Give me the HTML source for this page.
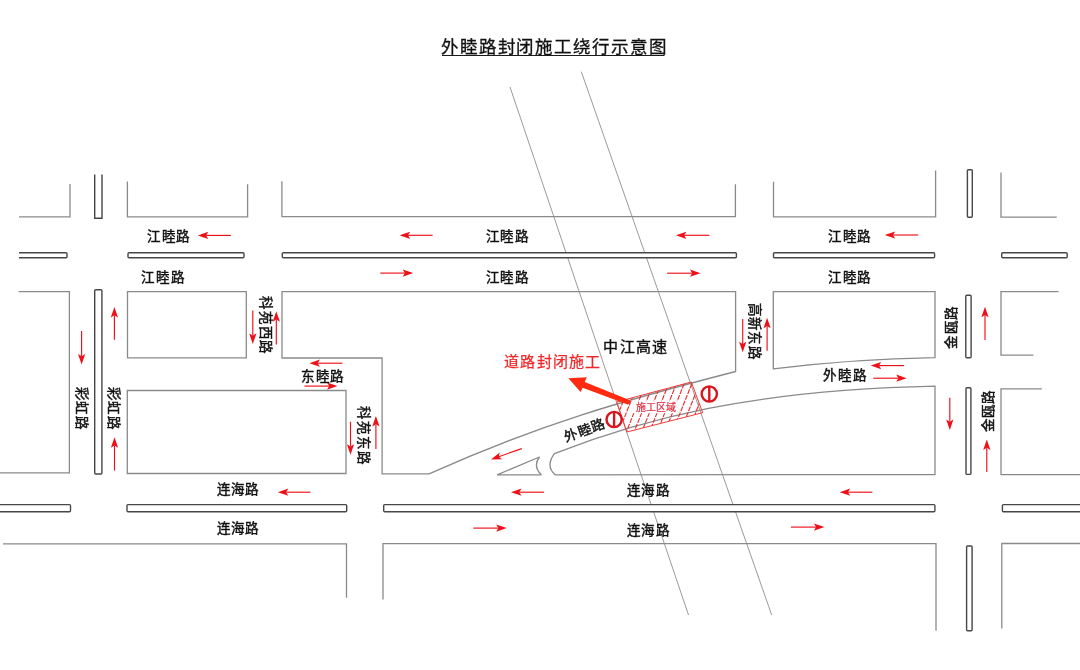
<!DOCTYPE html>
<html lang="zh-CN"><head><meta charset="utf-8"><title>外睦路封闭施工绕行示意图</title>
<style>html,body{margin:0;padding:0;background:#fff;}body{width:1080px;height:670px;overflow:hidden;}svg{display:block;font-family:"Liberation Serif",serif;will-change:transform;}</style>
</head><body>
<svg width="1080" height="670" viewBox="0 0 1080 670">
<rect width="1080" height="670" fill="#fff"/>
<line x1="510" y1="87" x2="688.5" y2="615" stroke="#959595" stroke-width="0.95"/>
<line x1="581.3" y1="71.7" x2="771.7" y2="615" stroke="#959595" stroke-width="0.95"/>
<path d="M19,216.8 L70,216.8 L70,184" fill="none" stroke="#8a8a8a" stroke-width="1.3"/>
<path d="M127.4,181.6 L127.4,216.9 L247.6,216.9 L247.6,184.3" fill="none" stroke="#8a8a8a" stroke-width="1.3"/>
<path d="M281.9,181.3 L281.9,216.6 L735.4,216.6 L735.4,184.2" fill="none" stroke="#8a8a8a" stroke-width="1.3"/>
<path d="M773.5,181.7 L773.5,216.8 L935.6,216.8 L935.6,170.4" fill="none" stroke="#8a8a8a" stroke-width="1.3"/>
<path d="M1001,172.5 L1001,217.1 L1056.8,217.1" fill="none" stroke="#8a8a8a" stroke-width="1.3"/>
<path d="M18.7,291.7 L69.4,291.7 L69.4,472.8 L0,472.8" fill="none" stroke="#8a8a8a" stroke-width="1.3"/>
<path d="M127.5,291.6 L246.3,291.6 L246.3,357.8 L127.5,357.8 Z" fill="none" stroke="#8a8a8a" stroke-width="1.3"/>
<path d="M282,291.6 L735.6,291.6 L735.6,371.5 C623.2,400.5 538.4,424.6 429.1,473.9 L382.1,473.9 L382.1,358 L282,358 Z" fill="none" stroke="#8a8a8a" stroke-width="1.3" stroke-miterlimit="2"/>
<path d="M127.3,390.5 L346,390.5 L346,473.5 L127.3,473.5 Z" fill="none" stroke="#8a8a8a" stroke-width="1.3"/>
<path d="M773.3,291.6 L935,291.6 L935,357.6 Q854,358.8 773.3,368.9 Z" fill="none" stroke="#8a8a8a" stroke-width="1.3" stroke-miterlimit="2"/>
<path d="M935,386.2 L935,474.6 L555.2,474.8 Q545.2,466 554.4,453.7 C642.1,419.2 750.5,390 935,386.2 Z" fill="none" stroke="#8a8a8a" stroke-width="1.3" stroke-miterlimit="2"/>
<path d="M497.1,474.8 L541.3,474.8 Q532.6,466 539.5,457 Z" fill="none" stroke="#8a8a8a" stroke-width="1.3" stroke-miterlimit="2"/>
<path d="M1058.5,291.6 L1001,291.6 L1001,355.2 L1033.5,355.2" fill="none" stroke="#8a8a8a" stroke-width="1.3"/>
<path d="M1041.8,388.8 L1001,388.8 L1001,474.6 L1080,474.6" fill="none" stroke="#8a8a8a" stroke-width="1.3"/>
<path d="M3,543.8 L346.5,543.8 L346.5,597.7" fill="none" stroke="#8a8a8a" stroke-width="1.3"/>
<path d="M383,599.5 L383,543.6 L936,543.6 L936,630.7" fill="none" stroke="#8a8a8a" stroke-width="1.3"/>
<path d="M1001.8,628.6 L1001.8,543.5 L1081,543.5" fill="none" stroke="#8a8a8a" stroke-width="1.3"/>
<path d="M19,252.8 L66,252.8 Q67,252.8 67,253.8 L67,256.7 Q67,257.7 66,257.7 L19,257.7" fill="none" stroke="#474747" stroke-width="1.4" stroke-miterlimit="2"/>
<rect x="128" y="252.8" width="116" height="4.899999999999977" rx="1" fill="#fff" stroke="#474747" stroke-width="1.4"/>
<rect x="282.3" y="252.8" width="454.09999999999997" height="4.899999999999977" rx="1" fill="#fff" stroke="#474747" stroke-width="1.4"/>
<rect x="773.5" y="252.8" width="161.10000000000002" height="4.899999999999977" rx="1" fill="#fff" stroke="#474747" stroke-width="1.4"/>
<rect x="1001.7" y="252.8" width="65.5" height="4.899999999999977" rx="1" fill="#fff" stroke="#474747" stroke-width="1.4"/>
<rect x="-5" y="504.6" width="75.5" height="7.199999999999989" rx="1" fill="#fff" stroke="#474747" stroke-width="1.4"/>
<rect x="127" y="504.6" width="219.7" height="7.199999999999989" rx="1" fill="#fff" stroke="#474747" stroke-width="1.4"/>
<rect x="383.7" y="504.6" width="551.2" height="7.199999999999989" rx="1" fill="#fff" stroke="#474747" stroke-width="1.4"/>
<rect x="1002.4" y="504.6" width="87.60000000000002" height="7.199999999999989" rx="1" fill="#fff" stroke="#474747" stroke-width="1.4"/>
<path d="M94.7,174.6 L94.7,218.3 L102,218.3 L102,174.6" fill="none" stroke="#474747" stroke-width="1.4" stroke-miterlimit="2"/>
<rect x="94.7" y="289.7" width="7.200000000000003" height="184.3" rx="1" fill="#fff" stroke="#474747" stroke-width="1.4"/>
<rect x="967.4" y="169.7" width="4.899999999999977" height="47.60000000000002" rx="1" fill="#fff" stroke="#474747" stroke-width="1.4"/>
<rect x="965.8" y="295.2" width="5.300000000000068" height="62.5" rx="1" fill="#fff" stroke="#474747" stroke-width="1.4"/>
<rect x="966" y="387.7" width="4.899999999999977" height="86.69999999999999" rx="1" fill="#fff" stroke="#474747" stroke-width="1.4"/>
<rect x="966.6" y="546" width="5.5" height="84.70000000000005" rx="1" fill="#fff" stroke="#474747" stroke-width="1.4"/>
<line x1="230.9" y1="235.4" x2="206.1" y2="235.4" stroke="#ee1018" stroke-width="1.15"/>
<path d="M197.8,235.4 L208.3,231.8 L206.1,235.4 L208.3,239.0 Z" fill="#ee1018"/>
<line x1="432.6" y1="235.3" x2="408.0" y2="235.3" stroke="#ee1018" stroke-width="1.15"/>
<path d="M399.7,235.3 L410.2,231.7 L408.0,235.3 L410.2,238.9 Z" fill="#ee1018"/>
<line x1="709.4" y1="235.3" x2="684.2" y2="235.3" stroke="#ee1018" stroke-width="1.15"/>
<path d="M675.9,235.3 L686.4,231.7 L684.2,235.3 L686.4,238.9 Z" fill="#ee1018"/>
<line x1="918.2" y1="235.0" x2="893.0" y2="235.0" stroke="#ee1018" stroke-width="1.15"/>
<path d="M884.7,235.0 L895.2,231.4 L893.0,235.0 L895.2,238.6 Z" fill="#ee1018"/>
<line x1="342.4" y1="363.2" x2="317.7" y2="363.2" stroke="#ee1018" stroke-width="1.15"/>
<path d="M309.4,363.2 L319.9,359.6 L317.7,363.2 L319.9,366.8 Z" fill="#ee1018"/>
<line x1="904.0" y1="365.6" x2="879.0" y2="365.6" stroke="#ee1018" stroke-width="1.15"/>
<path d="M870.7,365.6 L881.2,362.0 L879.0,365.6 L881.2,369.2 Z" fill="#ee1018"/>
<line x1="310.4" y1="492.2" x2="286.1" y2="492.2" stroke="#ee1018" stroke-width="1.15"/>
<path d="M277.8,492.2 L288.3,488.6 L286.1,492.2 L288.3,495.8 Z" fill="#ee1018"/>
<line x1="544.0" y1="492.2" x2="519.3" y2="492.2" stroke="#ee1018" stroke-width="1.15"/>
<path d="M511.0,492.2 L521.5,488.6 L519.3,492.2 L521.5,495.8 Z" fill="#ee1018"/>
<line x1="872.3" y1="492.2" x2="848.0" y2="492.2" stroke="#ee1018" stroke-width="1.15"/>
<path d="M839.7,492.2 L850.2,488.6 L848.0,492.2 L850.2,495.8 Z" fill="#ee1018"/>
<line x1="380.3" y1="273.1" x2="404.9" y2="273.1" stroke="#ee1018" stroke-width="1.15"/>
<path d="M413.2,273.1 L402.7,276.7 L404.9,273.1 L402.7,269.5 Z" fill="#ee1018"/>
<line x1="667.2" y1="273.2" x2="692.2" y2="273.2" stroke="#ee1018" stroke-width="1.15"/>
<path d="M700.5,273.2 L690.0,276.8 L692.2,273.2 L690.0,269.6 Z" fill="#ee1018"/>
<line x1="304.5" y1="386.1" x2="329.2" y2="386.1" stroke="#ee1018" stroke-width="1.15"/>
<path d="M337.5,386.1 L327.0,389.7 L329.2,386.1 L327.0,382.5 Z" fill="#ee1018"/>
<line x1="873.3" y1="378.2" x2="898.4" y2="378.2" stroke="#ee1018" stroke-width="1.15"/>
<path d="M906.7,378.2 L896.2,381.8 L898.4,378.2 L896.2,374.6 Z" fill="#ee1018"/>
<line x1="473.3" y1="528.1" x2="498.4" y2="528.1" stroke="#ee1018" stroke-width="1.15"/>
<path d="M506.7,528.1 L496.2,531.7 L498.4,528.1 L496.2,524.5 Z" fill="#ee1018"/>
<line x1="790.9" y1="527.1" x2="816.1" y2="527.1" stroke="#ee1018" stroke-width="1.15"/>
<path d="M824.4,527.1 L813.9,530.7 L816.1,527.1 L813.9,523.5 Z" fill="#ee1018"/>
<line x1="81.6" y1="331.0" x2="81.6" y2="356.3" stroke="#ee1018" stroke-width="1.15"/>
<path d="M81.6,364.6 L78.0,354.1 L81.6,356.3 L85.2,354.1 Z" fill="#ee1018"/>
<line x1="252.8" y1="310.6" x2="252.8" y2="335.6" stroke="#ee1018" stroke-width="1.15"/>
<path d="M252.8,343.9 L249.2,333.4 L252.8,335.6 L256.4,333.4 Z" fill="#ee1018"/>
<line x1="350.5" y1="421.8" x2="350.5" y2="446.5" stroke="#ee1018" stroke-width="1.15"/>
<path d="M350.5,454.8 L346.9,444.3 L350.5,446.5 L354.1,444.3 Z" fill="#ee1018"/>
<line x1="742.7" y1="318.9" x2="742.7" y2="343.9" stroke="#ee1018" stroke-width="1.15"/>
<path d="M742.7,352.2 L739.1,341.7 L742.7,343.9 L746.3,341.7 Z" fill="#ee1018"/>
<line x1="949.8" y1="397.8" x2="949.8" y2="421.8" stroke="#ee1018" stroke-width="1.15"/>
<path d="M949.8,430.1 L946.2,419.6 L949.8,421.8 L953.4,419.6 Z" fill="#ee1018"/>
<line x1="114.4" y1="339.8" x2="114.4" y2="315.2" stroke="#ee1018" stroke-width="1.15"/>
<path d="M114.4,306.9 L118.0,317.4 L114.4,315.2 L110.8,317.4 Z" fill="#ee1018"/>
<line x1="114.5" y1="470.6" x2="114.5" y2="445.5" stroke="#ee1018" stroke-width="1.15"/>
<path d="M114.5,437.2 L118.1,447.7 L114.5,445.5 L110.9,447.7 Z" fill="#ee1018"/>
<line x1="276.3" y1="344.5" x2="276.3" y2="319.6" stroke="#ee1018" stroke-width="1.15"/>
<path d="M276.3,311.3 L279.9,321.8 L276.3,319.6 L272.7,321.8 Z" fill="#ee1018"/>
<line x1="375.9" y1="449.0" x2="375.9" y2="424.3" stroke="#ee1018" stroke-width="1.15"/>
<path d="M375.9,416.0 L379.5,426.5 L375.9,424.3 L372.3,426.5 Z" fill="#ee1018"/>
<line x1="767.1" y1="350.7" x2="767.1" y2="326.1" stroke="#ee1018" stroke-width="1.15"/>
<path d="M767.1,317.8 L770.7,328.3 L767.1,326.1 L763.5,328.3 Z" fill="#ee1018"/>
<line x1="985.0" y1="340.0" x2="985.0" y2="315.1" stroke="#ee1018" stroke-width="1.15"/>
<path d="M985.0,306.8 L988.6,317.3 L985.0,315.1 L981.4,317.3 Z" fill="#ee1018"/>
<line x1="986.8" y1="471.9" x2="986.8" y2="447.8" stroke="#ee1018" stroke-width="1.15"/>
<path d="M986.8,439.5 L990.4,450.0 L986.8,447.8 L983.2,450.0 Z" fill="#ee1018"/>
<line x1="521.8" y1="448.6" x2="498.8" y2="456.7" stroke="#ee1018" stroke-width="1.15"/>
<path d="M491.0,459.4 L499.7,452.5 L498.8,456.7 L502.1,459.3 Z" fill="#ee1018"/>
<clipPath id="hz"><path d="M616.7,401.9 L691.3,382 L702.7,412.7 L626.9,432 Z"/></clipPath>
<path d="M553.8,440 L579.8,375 M561.5,440 L587.5,375 M569.2,440 L595.2,375 M576.9,440 L602.9,375 M584.6,440 L610.6,375 M592.3,440 L618.3,375 M600.0,440 L626.0,375 M607.7,440 L633.7,375 M615.4,440 L641.4,375 M623.1,440 L649.1,375 M630.8,440 L656.8,375 M638.5,440 L664.5,375 M646.2,440 L672.2,375 M653.9,440 L679.9,375 M661.6,440 L687.6,375 M669.3,440 L695.3,375 M677.0,440 L703.0,375 M684.7,440 L710.7,375 M692.4,440 L718.4,375 M700.1,440 L726.1,375 M707.8,440 L733.8,375 M715.5,440 L741.5,375 M723.2,440 L749.2,375 M730.9,440 L756.9,375 M738.6,440 L764.6,375 M746.3,440 L772.3,375" stroke="#ea2a2a" stroke-width="1.1" stroke-dasharray="5 1.2" clip-path="url(#hz)" fill="none"/>
<path d="M616.7,401.9 L691.3,382 L702.7,412.7 L626.9,432 Z" fill="none" stroke="#ee3a3a" stroke-width="1"/>
<rect x="632.5" y="401.2" width="45.5" height="12" fill="#fff"/>
<text x="656" y="407" font-size="10" fill="#e42a3c" stroke="#e42a3c" stroke-width="0.2" text-anchor="middle" dominant-baseline="central">施工区域</text>
<circle cx="614.1" cy="419.5" r="7.6" fill="#fff" stroke="#d8141e" stroke-width="2.4"/>
<line x1="614.1" y1="411.9" x2="614.1" y2="427.1" stroke="#d8141e" stroke-width="2.4"/>
<circle cx="709.3" cy="394" r="7.6" fill="#fff" stroke="#d8141e" stroke-width="2.4"/>
<line x1="709.3" y1="386.4" x2="709.3" y2="401.6" stroke="#d8141e" stroke-width="2.4"/>
<path d="M568.4,378.3 L586.8,377.2 L584.7,382.0 L629.4,400.1 Q632.2,403.4 627.6,404.6 L582.6,387.7 L580.6,392.1 Z" fill="#ff2a10"/>
<text x="553.30" y="47.00" font-size="17.5" fill="#111" stroke="#111" stroke-width="0.3" text-anchor="middle" dominant-baseline="central" textLength="224.60" lengthAdjust="spacing">外睦路封闭施工绕行示意图</text>
<text x="168.00" y="236.20" font-size="13.5" fill="#111" stroke="#111" stroke-width="0.45" text-anchor="middle" dominant-baseline="central" textLength="42.40" lengthAdjust="spacing">江睦路</text>
<text x="162.40" y="277.00" font-size="13.5" fill="#111" stroke="#111" stroke-width="0.45" text-anchor="middle" dominant-baseline="central" textLength="42.40" lengthAdjust="spacing">江睦路</text>
<text x="506.90" y="236.80" font-size="13.5" fill="#111" stroke="#111" stroke-width="0.45" text-anchor="middle" dominant-baseline="central" textLength="42.20" lengthAdjust="spacing">江睦路</text>
<text x="506.90" y="277.80" font-size="13.5" fill="#111" stroke="#111" stroke-width="0.45" text-anchor="middle" dominant-baseline="central" textLength="42.20" lengthAdjust="spacing">江睦路</text>
<text x="849.10" y="236.40" font-size="13.5" fill="#111" stroke="#111" stroke-width="0.45" text-anchor="middle" dominant-baseline="central" textLength="41.80" lengthAdjust="spacing">江睦路</text>
<text x="849.10" y="277.30" font-size="13.5" fill="#111" stroke="#111" stroke-width="0.45" text-anchor="middle" dominant-baseline="central" textLength="41.80" lengthAdjust="spacing">江睦路</text>
<text x="237.50" y="489.80" font-size="13.5" fill="#111" stroke="#111" stroke-width="0.45" text-anchor="middle" dominant-baseline="central" textLength="41.40" lengthAdjust="spacing">连海路</text>
<text x="237.50" y="528.70" font-size="13.5" fill="#111" stroke="#111" stroke-width="0.45" text-anchor="middle" dominant-baseline="central" textLength="41.40" lengthAdjust="spacing">连海路</text>
<text x="647.70" y="490.00" font-size="13.5" fill="#111" stroke="#111" stroke-width="0.45" text-anchor="middle" dominant-baseline="central" textLength="41.80" lengthAdjust="spacing">连海路</text>
<text x="647.70" y="530.30" font-size="13.5" fill="#111" stroke="#111" stroke-width="0.45" text-anchor="middle" dominant-baseline="central" textLength="41.80" lengthAdjust="spacing">连海路</text>
<text x="81.40" y="407.80" font-size="13.5" fill="#111" stroke="#111" stroke-width="0.45" text-anchor="middle" dominant-baseline="central" textLength="42.40" lengthAdjust="spacing" transform="rotate(90 81.40 407.80)">彩虹路</text>
<text x="113.70" y="407.80" font-size="13.5" fill="#111" stroke="#111" stroke-width="0.45" text-anchor="middle" dominant-baseline="central" textLength="42.40" lengthAdjust="spacing" transform="rotate(90 113.70 407.80)">彩虹路</text>
<text x="265.30" y="324.60" font-size="13.5" fill="#111" stroke="#111" stroke-width="0.45" text-anchor="middle" dominant-baseline="central" textLength="57.60" lengthAdjust="spacing" transform="rotate(90 265.30 324.60)">科苑西路</text>
<text x="322.30" y="376.60" font-size="13.5" fill="#111" stroke="#111" stroke-width="0.45" text-anchor="middle" dominant-baseline="central" textLength="41.80" lengthAdjust="spacing">东睦路</text>
<text x="363.50" y="435.10" font-size="13.5" fill="#111" stroke="#111" stroke-width="0.45" text-anchor="middle" dominant-baseline="central" textLength="57.80" lengthAdjust="spacing" transform="rotate(90 363.50 435.10)">科苑东路</text>
<text x="754.50" y="330.90" font-size="13.5" fill="#111" stroke="#111" stroke-width="0.45" text-anchor="middle" dominant-baseline="central" textLength="55.40" lengthAdjust="spacing" transform="rotate(90 754.50 330.90)">高新东路</text>
<text x="951.40" y="327.90" font-size="13.5" fill="#111" stroke="#111" stroke-width="0.45" text-anchor="middle" dominant-baseline="central" textLength="41.40" lengthAdjust="spacing" transform="rotate(-90 951.40 327.90)">金瓯路</text>
<text x="988.10" y="411.20" font-size="13.5" fill="#111" stroke="#111" stroke-width="0.45" text-anchor="middle" dominant-baseline="central" textLength="41.20" lengthAdjust="spacing" transform="rotate(-90 988.10 411.20)">金瓯路</text>
<text x="844.90" y="375.90" font-size="13.5" fill="#111" stroke="#111" stroke-width="0.45" text-anchor="middle" dominant-baseline="central" textLength="43.00" lengthAdjust="spacing">外睦路</text>
<text x="635.40" y="346.95" font-size="15" fill="#111" stroke="#111" stroke-width="0.4" text-anchor="middle" dominant-baseline="central" textLength="64.00" lengthAdjust="spacing">中江高速</text>
<text x="552.30" y="362.15" font-size="15" fill="#f0282a" stroke="#f0282a" stroke-width="0.25" text-anchor="middle" dominant-baseline="central" textLength="96.20" lengthAdjust="spacing">道路封闭施工</text>
<line x1="442" y1="55.5" x2="664.5" y2="55.5" stroke="#1a1a1a" stroke-width="1"/>
<text x="584.2" y="430.6" font-size="13.5" fill="#111" stroke="#111" stroke-width="0.45" text-anchor="middle" dominant-baseline="central" textLength="42.5" lengthAdjust="spacing" transform="rotate(-19.5 584.2 430.6)">外睦路</text>
</svg>
</body></html>
